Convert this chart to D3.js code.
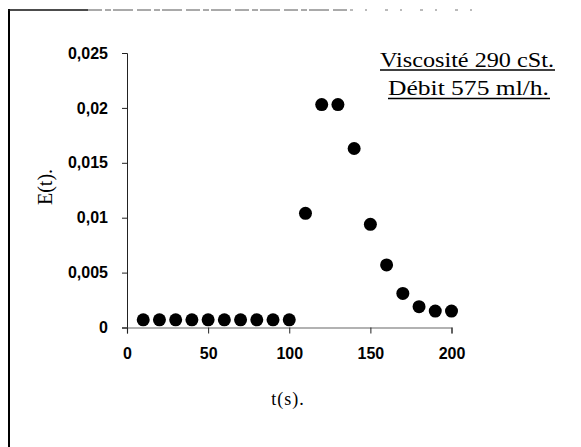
<!DOCTYPE html>
<html>
<head>
<meta charset="utf-8">
<script src="https://cdn.jsdelivr.net/npm/d3@7"></script>
<style>
  html, body { margin: 0; padding: 0; background: #fff; }
  svg { display: block; }
</style>
</head>
<body>
<script>
// Residence time distribution E(t) versus time t (s)
const times = [10, 20, 30, 40, 50, 60, 70, 80, 90, 100,
               110, 120, 130, 140, 150, 160, 170, 180, 190, 200];
const eValues = [0.0007, 0.0007, 0.0007, 0.0007, 0.0007, 0.0007, 0.0007, 0.0007, 0.0007, 0.0007,
                 0.0104, 0.0203, 0.0203, 0.0163, 0.0094, 0.0057, 0.0031, 0.0019, 0.0015, 0.0015];
const xTicks = [0, 50, 100, 150, 200];
const yTicks = [0, 0.005, 0.01, 0.015, 0.02, 0.025];
const noteLines = ["Viscosité 290 cSt.", "Débit 575 ml/h."];

const W = 581, H = 447;
const svg = d3.select("body").append("svg").attr("width", W).attr("height", H);

// Frame: left edge and a worn top edge
svg.append("line").attr("x1", 9).attr("x2", 9).attr("y1", 9).attr("y2", H)
  .attr("stroke", "#000").attr("stroke-width", 2);
svg.append("line").attr("x1", 8).attr("x2", 88).attr("y1", 10).attr("y2", 10)
  .attr("stroke", "#111").attr("stroke-width", 1.5);
svg.append("line").attr("x1", 88).attr("x2", 350).attr("y1", 10).attr("y2", 10)
  .attr("stroke", "#555").attr("stroke-width", 1).attr("stroke-dasharray", "14 3 6 2 20 4");
svg.append("line").attr("x1", 350).attr("x2", 485).attr("y1", 10).attr("y2", 10)
  .attr("stroke", "#777").attr("stroke-width", 1).attr("stroke-dasharray", "3 12 2 18");

const x = d3.scaleLinear().domain([0, 200]).range([127, 451.5]);
const y = d3.scaleLinear().domain([0, 0.025]).range([327.5, 53]);

const fmt = d => d === 0 ? "0" : d3.format(",")(d).replace(".", ",");

// Y axis
const yAxis = svg.append("g").attr("transform", `translate(${x(0)},0)`)
  .call(d3.axisLeft(y).tickValues(yTicks).tickSize(5).tickPadding(14).tickFormat(fmt));
yAxis.select(".domain").attr("stroke", "#222").attr("stroke-width", 1);
yAxis.selectAll(".tick line").attr("stroke", "#222");
yAxis.selectAll("text")
  .attr("font-family", "Liberation Sans, Arial, sans-serif")
  .attr("font-weight", "bold").attr("font-size", 16).attr("fill", "#000");

// X axis
const xAxis = svg.append("g").attr("transform", `translate(0,${y(0)})`)
  .call(d3.axisBottom(x).tickValues(xTicks).tickSize(6).tickPadding(14).tickFormat(d3.format("d")));
xAxis.select(".domain").attr("stroke", "#666").attr("stroke-width", 1.2);
xAxis.selectAll(".tick line").attr("stroke", "#222");
xAxis.selectAll("text")
  .attr("font-family", "Liberation Sans, Arial, sans-serif")
  .attr("font-weight", "bold").attr("font-size", 16).attr("fill", "#000");

// Data points
svg.append("g").selectAll("circle")
  .data(times.map((t, i) => ({ t, e: eValues[i] })))
  .join("circle")
  .attr("cx", d => x(d.t))
  .attr("cy", d => y(d.e))
  .attr("r", 6.5)
  .attr("fill", "#000");

// Axis titles
svg.append("text")
  .attr("transform", "translate(52,187) rotate(-90)")
  .attr("text-anchor", "middle")
  .attr("font-family", "Liberation Serif, Times New Roman, serif")
  .attr("font-size", 20).attr("fill", "#000")
  .text("E(t).");

svg.append("text")
  .attr("x", 288).attr("y", 405)
  .attr("text-anchor", "middle")
  .attr("font-family", "Liberation Serif, Times New Roman, serif")
  .attr("font-size", 18).attr("letter-spacing", 1).attr("fill", "#000")
  .text("t(s).");

// Operating conditions note, underlined
const noteSpans = [[380, 554, 66.5], [388, 549, 95]];
noteLines.forEach((txt, i) => {
  const [x0, x1, by] = noteSpans[i];
  svg.append("text")
    .attr("x", x0).attr("y", by)
    .attr("textLength", x1 - x0).attr("lengthAdjust", "spacingAndGlyphs")
    .attr("font-family", "Liberation Serif, Times New Roman, serif")
    .attr("font-size", 21).attr("fill", "#000")
    .text(txt);
  svg.append("line").attr("x1", x0).attr("x2", x1 + 1)
    .attr("y1", by + 3.5).attr("y2", by + 3.5)
    .attr("stroke", "#000").attr("stroke-width", 1.3);
});
</script>
</body>
</html>
